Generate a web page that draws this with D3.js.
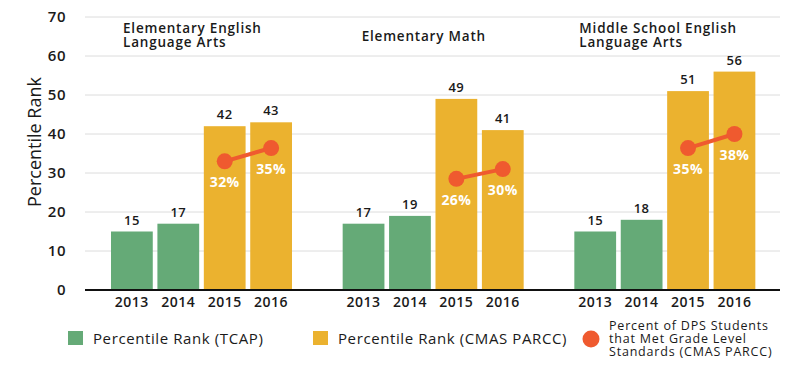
<!DOCTYPE html>
<html>
<head>
<meta charset="utf-8">
<script src="https://cdn.jsdelivr.net/npm/d3@7"></script>
<style>
  body { margin: 0; background: #fff; }
  svg { font-family: "Open Sans", sans-serif; }
</style>
</head>
<body>
<div id="chart"></div>
<script>
let groups = ["Elementary English\nLanguage Arts", "Elementary Math", "Middle School English\nLanguage Arts"];
let years = ["2013", "2014", "2015", "2016"];
let rankValues = [
    [15, 17, 42, 43],
    [17, 19, 49, 41],
    [15, 18, 51, 56]
];
// percent met standards (CMAS PARCC), 2015 and 2016
let pctLabels = [
    [32, 35],
    [26, 30],
    [35, 38]
];
// where the dots sit on the rank axis in the picture
let dotPositions = [
    [33, 36.4],
    [28.5, 31],
    [36.4, 40]
];
let yTicks = [0, 10, 20, 30, 40, 50, 60, 70];
let legendLabels = ["Percentile Rank (TCAP)", "Percentile Rank (CMAS PARCC)",
    "Percent of DPS Students\nthat Met Grade Level\nStandards (CMAS PARCC)"];

let green = "#65aa77", yellow = "#ebb22f", orange = "#ef5a2f";
let ink = "#1a1a1a";

let width = 800, height = 372;
let margin = {top: 17, right: 20, bottom: 82, left: 85};
let plotRight = 780;
let titleOffsets = [38, 45, 31];

let svg = d3.select("#chart").append("svg")
    .attr("width", width)
    .attr("height", height);

let yScale = d3.scaleLinear()
    .domain([0, 70])
    .range([height - margin.bottom, margin.top]);

let x0 = d3.scaleBand()
    .domain(d3.range(groups.length))
    .range([margin.left, plotRight]);

let x1 = d3.scaleBand()
    .domain(years)
    .range([26, 207])
    .paddingInner(0.1);

// grid
svg.append("g")
    .selectAll("line")
    .data(yTicks.filter(d => d > 0))
    .enter().append("line")
    .attr("x1", margin.left)
    .attr("x2", plotRight)
    .attr("y1", d => yScale(d))
    .attr("y2", d => yScale(d))
    .attr("stroke", "#dcdcdc")
    .attr("stroke-width", 1);

// y axis labels
let yAxis = svg.append("g")
    .attr("transform", "translate(" + margin.left + ",0)")
    .call(d3.axisLeft(yScale).tickValues(yTicks).tickSize(0).tickPadding(19));
yAxis.select(".domain").remove();
yAxis.selectAll("text")
    .attr("font-family", "Open Sans")
    .style("font-size", "15px")
    .style("font-weight", 600)
    .style("letter-spacing", "0.5px")
    .attr("fill", ink);

svg.append("text")
    .attr("transform", "translate(41,142) rotate(-90)")
    .attr("text-anchor", "middle")
    .style("font-size", "18px")
    .style("font-weight", 500)
    .attr("fill", ink)
    .text("Percentile Rank");

// groups
let g = svg.selectAll(".grp")
    .data(groups)
    .enter().append("g")
    .attr("class", "grp")
    .attr("transform", (d, i) => "translate(" + x0(i) + ",0)");

g.selectAll(".bar")
    .data((d, i) => rankValues[i].map((v, j) => ({year: years[j], v: v})))
    .enter().append("rect")
    .attr("class", "bar")
    .attr("x", d => x1(d.year))
    .attr("y", d => yScale(d.v))
    .attr("width", x1.bandwidth())
    .attr("height", d => yScale(0) - yScale(d.v))
    .attr("fill", d => (d.year === "2013" || d.year === "2014") ? green : yellow);

g.selectAll(".val")
    .data((d, i) => rankValues[i].map((v, j) => ({year: years[j], v: v})))
    .enter().append("text")
    .attr("class", "val")
    .attr("x", d => x1(d.year) + x1.bandwidth() / 2)
    .attr("y", d => yScale(d.v) - 7)
    .attr("text-anchor", "middle")
    .style("font-size", "13px")
    .style("font-weight", 600)
    .style("letter-spacing", "0.4px")
    .attr("fill", ink)
    .text(d => d.v);

// x labels
g.selectAll(".yr")
    .data(years)
    .enter().append("text")
    .attr("class", "yr")
    .attr("x", d => x1(d) + x1.bandwidth() / 2)
    .attr("y", yScale(0) + 17)
    .attr("text-anchor", "middle")
    .style("font-size", "14px")
    .style("font-weight", 600)
    .style("letter-spacing", "0.5px")
    .attr("fill", ink)
    .text(d => d);

// titles
g.each(function(d, i) {
    let lines = d.split("\n");
    let t = d3.select(this).append("text")
        .attr("y", lines.length > 1 ? 33 : 41)
        .style("font-size", "13.5px")
        .style("font-weight", 600)
        .style("letter-spacing", "0.8px")
        .attr("fill", ink);
    lines.forEach((l, k) => {
        t.append("tspan")
            .attr("x", titleOffsets[i])
            .attr("dy", k === 0 ? 0 : 13.5)
            .text(l);
    });
});

// dots + line
let line = d3.line()
    .x(d => x1(d.year) + x1.bandwidth() / 2)
    .y(d => yScale(d.v));

g.each(function(d, i) {
    let pts = dotPositions[i].map((v, j) => ({year: years[j + 2], v: v, pct: pctLabels[i][j]}));
    let s = d3.select(this);
    s.append("path")
        .datum(pts)
        .attr("d", line)
        .attr("stroke", orange)
        .attr("stroke-width", 4)
        .attr("fill", "none");
    s.selectAll(".dot")
        .data(pts)
        .enter().append("circle")
        .attr("class", "dot")
        .attr("cx", p => x1(p.year) + x1.bandwidth() / 2)
        .attr("cy", p => yScale(p.v))
        .attr("r", 8)
        .attr("fill", orange);
    s.selectAll(".pct")
        .data(pts)
        .enter().append("text")
        .attr("class", "pct")
        .attr("x", p => x1(p.year) + x1.bandwidth() / 2)
        .attr("y", p => yScale(p.v) + 26)
        .attr("text-anchor", "middle")
        .style("font-size", "14px")
        .style("font-weight", 700)
        .style("letter-spacing", "0.4px")
        .attr("fill", "#fff")
        .text(p => p.pct + "%");
});

// baseline
svg.append("line")
    .attr("x1", margin.left)
    .attr("x2", plotRight)
    .attr("y1", yScale(0))
    .attr("y2", yScale(0))
    .attr("stroke", "#111")
    .attr("stroke-width", 2);

// legend
let legend = svg.append("g").attr("fill", ink);
legend.append("rect").attr("x", 68).attr("y", 331).attr("width", 15).attr("height", 14).attr("fill", green);
legend.append("text").attr("x", 93).attr("y", 344)
    .style("font-size", "15px").style("font-weight", 500).style("letter-spacing", "0.6px")
    .text(legendLabels[0]);
legend.append("rect").attr("x", 313).attr("y", 331).attr("width", 15).attr("height", 14).attr("fill", yellow);
legend.append("text").attr("x", 338).attr("y", 344)
    .style("font-size", "15px").style("font-weight", 500).style("letter-spacing", "0.6px")
    .text(legendLabels[1]);
legend.append("circle").attr("cx", 591).attr("cy", 339).attr("r", 8.5).attr("fill", orange);
let lt = legend.append("text").attr("x", 609).attr("y", 330)
    .style("font-size", "12.5px").style("font-weight", 500).style("letter-spacing", "0.8px");
legendLabels[2].split("\n").forEach((l, k) => {
    lt.append("tspan").attr("x", 609).attr("dy", k === 0 ? 0 : 13).text(l);
});
</script>
</body>
</html>
